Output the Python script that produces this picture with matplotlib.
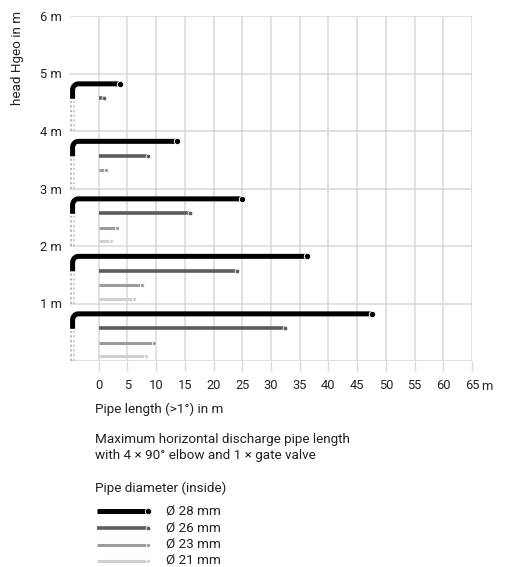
import numpy as np
import matplotlib
matplotlib.use("Agg")
import matplotlib.pyplot as plt

plt.rcParams['font.family'] = ['Roboto', 'DejaVu Sans']

# ---- data ----
heads = [1, 2, 3, 4, 5]
len_28 = [47.5, 36.2, 24.9, 13.6, 3.7]
len_26 = [32.5, 24.1, 15.9, 8.6, 1.0]
len_23 = [9.6, 7.6, 3.1, 1.3, None]
len_21 = [8.3, 6.1, 2.1, None, None]
series_labels = ["Ø 28 mm", "Ø 26 mm", "Ø 23 mm", "Ø 21 mm"]
x_ticks = [0, 5, 10, 15, 20, 25, 30, 35, 40, 45, 50, 55, 60, 65]
y_ticks = [0, 1, 2, 3, 4, 5, 6]
y_tick_labels = ["", "1 m", "2 m", "3 m", "4 m", "5 m", "6 m"]

# ---- styles ----
colors = ["#000000", "#5c5c5c", "#9c9c9c", "#d0d0d0"]
lws = [3.6, 2.6, 2.2, 2.2]
mss = [4.6, 3.4, 3.0, 3.0]
offsets = [0.18, 0.43, 0.68, 0.92]
grid_c = "#d9d9d9"
text_c = "#222222"
fs = 9.3
fs_txt = 9.7

W, H = 505, 567
fig = plt.figure(figsize=(W / 100, H / 100), dpi=100)
ax = fig.add_axes([70 / W, 1 - 361 / H, (472 - 70) / W, (361 - 16) / H])
ax.set_xlim(-5, 65)
ax.set_ylim(0, 6)
for s in ax.spines.values():
    s.set_visible(False)
ax.set_xticks(x_ticks)
ax.set_xticklabels([str(v) for v in x_ticks])
ax.set_yticks(y_ticks)
ax.set_yticklabels(y_tick_labels)
ax.tick_params(axis='x', direction='out', length=7, width=1, color=grid_c,
               labelsize=fs, labelcolor=text_c, pad=6)
ax.tick_params(axis='y', length=0, labelsize=fs, labelcolor=text_c, pad=6)
ax.grid(True, color=grid_c, lw=1.1, zorder=0)
ax.set_axisbelow(True)
ax.text(66.6, -0.45, "m", fontsize=fs, color=text_c, ha='left', va='center')

all_lens = [len_28, len_26, len_23, len_21]
for i, h in enumerate(heads):
    # dotted vertical drops
    for xd, c in [(-4.9, "#b5b5b5"), (-4.25, "#cdcdcd")]:
        ax.plot([xd, xd], [h - 1, h - 0.47], color=c, lw=1.3,
                ls=(0, (1.3, 1.3)), solid_capstyle='butt', zorder=2)
    # black elbow pipe
    L = len_28[i]
    y0 = h - offsets[0]
    xe, rx, ry = -4.55, 1.0, 0.11
    t = np.linspace(np.pi, np.pi / 2, 20)
    px = np.concatenate([[xe], xe + rx + rx * np.cos(t), [L]])
    py = np.concatenate([[h - 0.44], y0 - ry + ry * np.sin(t), [y0]])
    ax.plot(px, py, color=colors[0], lw=lws[0], solid_capstyle='butt',
            solid_joinstyle='round', zorder=4)
    ax.plot([L], [y0], 'o', color=colors[0], ms=mss[0], mec='white', mew=0.7, zorder=5)
    # other series from 0
    for k in range(1, 4):
        v = all_lens[k][i]
        if v is None:
            continue
        y = h - offsets[k]
        ax.plot([0, v], [y, y], color=colors[k], lw=lws[k], solid_capstyle='butt', zorder=3)
        ax.plot([v], [y], 'o', color=colors[k], ms=mss[k], mec='white', mew=0.6, zorder=4)

# ---- texts ----
def ftext(x, y, s, **kw):
    fig.text(x / W, 1 - y / H, s, color=text_c, **kw)

ftext(18, 11, "head Hgeo in m", rotation=90, ha='center', va='top', fontsize=9.7)
ftext(95, 409, "Pipe length (>1°) in m", ha='left', va='center', fontsize=fs_txt)
ftext(95, 440, "Maximum horizontal discharge pipe length", ha='left', va='center', fontsize=fs_txt)
ftext(95, 456, "with 4 × 90° elbow and 1 × gate valve", ha='left', va='center', fontsize=fs_txt)
ftext(95, 488, "Pipe diameter (inside)", ha='left', va='center', fontsize=fs_txt)

# ---- legend ----
lax = fig.add_axes([0, 0, 1, 1], facecolor='none')
lax.set_xlim(0, W)
lax.set_ylim(H, 0)
lax.axis('off')
rows = [511, 528, 544.5, 560.5]
for k in range(4):
    lax.plot([97, 148], [rows[k], rows[k]], color=colors[k], lw=lws[k], solid_capstyle='butt')
    lax.plot([148], [rows[k]], 'o', color=colors[k], ms=mss[k], mec='white', mew=0.6)
    lax.text(166, rows[k], series_labels[k], fontsize=fs_txt, color=text_c, ha='left', va='center')

fig.savefig("out.png", dpi=100)
